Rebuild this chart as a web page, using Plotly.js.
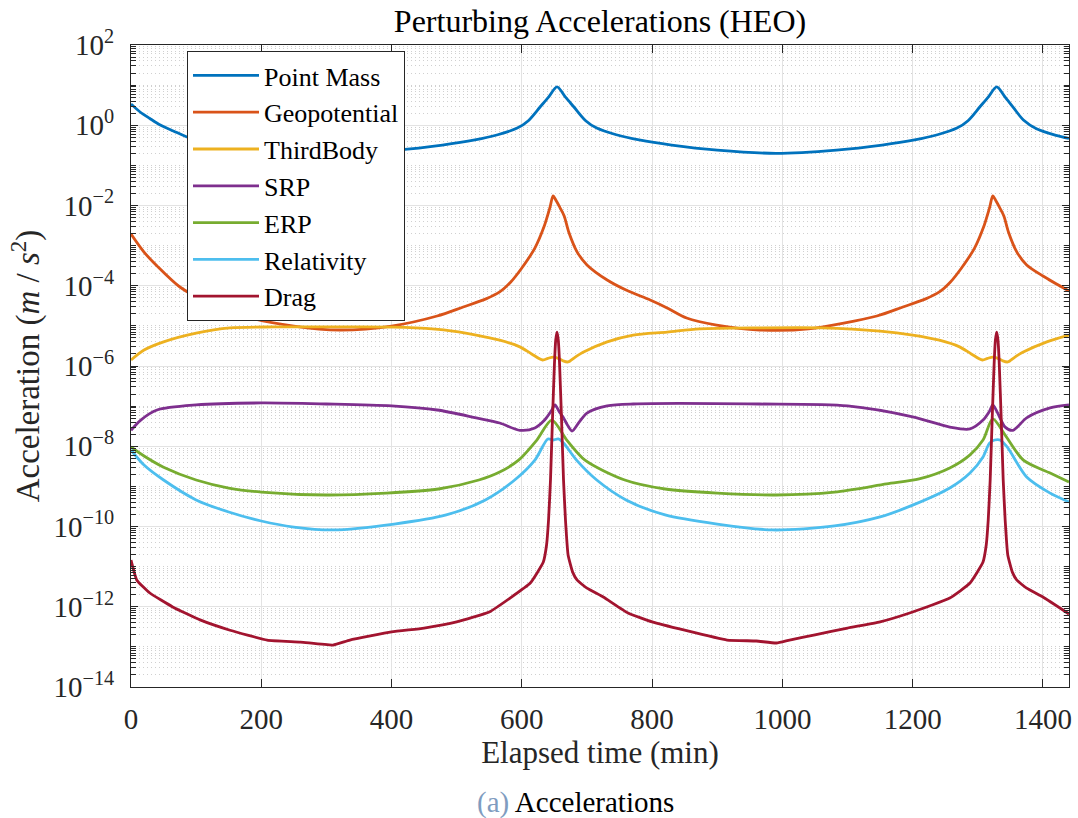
<!DOCTYPE html>
<html><head><meta charset="utf-8">
<script src="https://cdn.plot.ly/plotly-3.0.1.min.js"></script>
<style>html,body{margin:0;padding:0;background:#fff}#chart{width:1078px;height:818px}</style>
</head><body><div id="chart"></div>
<script>
// ---- data ----
const tPointMass = [0, 14, 29, 45, 65, 86, 120, 170, 230, 317, 408, 478, 528, 563, 593, 610, 628, 641, 654, 667, 680, 698, 715, 745, 780, 830, 900, 990, 1083, 1153, 1203, 1238, 1268, 1285, 1303, 1316, 1329, 1342, 1355, 1370, 1390, 1420, 1440];
const pointMass = [3.4, 2.14, 1.47, 1.01, 0.72, 0.51, 0.36, 0.28, 0.228, 0.20, 0.24, 0.32, 0.43, 0.58, 0.85, 1.3, 2.85, 5.0, 9.0, 5.0, 2.85, 1.3, 0.85, 0.58, 0.43, 0.32, 0.24, 0.20, 0.24, 0.32, 0.43, 0.58, 0.85, 1.3, 2.85, 5.0, 9.0, 5.0, 2.7, 1.35, 0.82, 0.56, 0.47];

const tGeopotential = [0, 20, 40, 75, 120, 178, 250, 320, 400, 470, 510, 545, 566, 583, 600, 620, 635, 643, 648, 653, 658, 665, 672, 685, 700, 731, 760, 797, 823, 853, 899, 965, 1040, 1145, 1185, 1220, 1241, 1258, 1275, 1295, 1310, 1318, 1323, 1328, 1333, 1340, 1347, 1360, 1375, 1400, 1440];
const geopotential = [1.95e-3, 6.9e-4, 3.1e-4, 9.3e-5, 3.7e-5, 1.66e-5, 9.9e-6, 7.9e-6, 9.9e-6, 1.76e-5, 2.95e-5, 4.7e-5, 7.0e-5, 1.24e-4, 2.77e-4, 8.7e-4, 3.27e-3, 8.7e-3, 1.73e-2, 1.29e-2, 9.2e-3, 5.5e-3, 2.19e-3, 6.9e-4, 3.3e-4, 1.39e-4, 7.8e-5, 4.4e-5, 2.8e-5, 1.57e-5, 1.05e-5, 7.9e-6, 8.4e-6, 1.76e-5, 2.95e-5, 4.7e-5, 7.0e-5, 1.24e-4, 2.77e-4, 8.7e-4, 3.27e-3, 8.7e-3, 1.73e-2, 1.29e-2, 9.2e-3, 5.5e-3, 2.19e-3, 6.9e-4, 3.3e-4, 1.75e-4, 7.4e-5];

const tThirdBody = [0, 20, 50, 100, 152, 220, 320, 420, 480, 530, 566, 597, 615, 632, 640, 648, 656, 663, 671, 682, 694, 731, 771, 823, 873, 965, 1060, 1150, 1200, 1241, 1272, 1290, 1307, 1315, 1323, 1331, 1338, 1346, 1357, 1369, 1406, 1440];
const thirdBody = [1.41e-6, 2.5e-6, 4.0e-6, 6.6e-6, 8.9e-6, 9.4e-6, 9.4e-6, 9.2e-6, 7.9e-6, 5.9e-6, 4.4e-6, 3.0e-6, 2.0e-6, 1.41e-6, 1.55e-6, 1.67e-6, 1.55e-6, 1.35e-6, 1.26e-6, 1.67e-6, 2.2e-6, 4.0e-6, 5.9e-6, 7.0e-6, 8.4e-6, 8.9e-6, 8.9e-6, 7.4e-6, 5.9e-6, 4.4e-6, 3.0e-6, 2.0e-6, 1.41e-6, 1.55e-6, 1.67e-6, 1.55e-6, 1.35e-6, 1.26e-6, 1.67e-6, 2.2e-6, 4.0e-6, 5.9e-6];

const tSRP = [0, 15, 40, 100, 200, 300, 400, 470, 530, 566, 597, 620, 635, 645, 651, 657, 663, 670, 677, 688, 700, 731, 771, 965, 1100, 1200, 1257, 1288, 1308, 1318, 1323, 1330, 1342, 1354, 1375, 1411, 1440];
const srp = [2.5e-8, 4.5e-8, 8.0e-8, 1.07e-7, 1.20e-7, 1.13e-7, 1.01e-7, 8.0e-8, 5.1e-8, 3.8e-8, 2.5e-8, 2.85e-8, 4.5e-8, 7.5e-8, 1.07e-7, 7.5e-8, 5.4e-8, 3.4e-8, 2.4e-8, 4.0e-8, 6.7e-8, 1.01e-7, 1.13e-7, 1.13e-7, 1.01e-7, 5.4e-8, 3.0e-8, 2.7e-8, 4.5e-8, 7.5e-8, 1.07e-7, 7.0e-8, 3.0e-8, 2.5e-8, 5.1e-8, 9.0e-8, 1.07e-7];

const tERP = [0, 20, 50, 100, 150, 200, 300, 392, 472, 534, 566, 595, 623, 646, 669, 697, 758, 820, 900, 990, 1080, 1160, 1210, 1257, 1288, 1308, 1323, 1342, 1370, 1411, 1440];
const erp = [9.6e-9, 5.7e-9, 3.0e-9, 1.44e-9, 9.1e-10, 7.2e-10, 6.1e-10, 6.8e-10, 8.6e-10, 1.44e-9, 2.28e-9, 4.5e-9, 1.43e-8, 4.5e-8, 1.43e-8, 4.5e-9, 1.44e-9, 8.6e-10, 6.8e-10, 6.1e-10, 7.2e-10, 1.15e-9, 1.53e-9, 2.87e-9, 6.1e-9, 1.43e-8, 4.8e-8, 1.9e-8, 4.5e-9, 2.15e-9, 1.29e-9];

const tRelativity = [0, 20, 50, 100, 150, 200, 250, 310, 404, 484, 544, 589, 620, 640, 648, 656, 664, 684, 715, 760, 820, 900, 985, 1080, 1150, 1200, 1257, 1288, 1308, 1318, 1326, 1334, 1345, 1375, 1411, 1440];
const relativity = [8.1e-9, 3.4e-9, 1.44e-9, 4.6e-10, 2.3e-10, 1.37e-10, 9.7e-11, 8.2e-11, 1.15e-10, 1.94e-10, 4.6e-10, 1.44e-9, 4.5e-9, 1.52e-8, 1.43e-8, 1.52e-8, 1.2e-8, 4.5e-9, 1.44e-9, 4.6e-10, 1.94e-10, 1.15e-10, 8.2e-11, 1.03e-10, 1.73e-10, 3.4e-10, 9.1e-10, 2.15e-9, 5.4e-9, 1.2e-8, 1.43e-8, 1.43e-8, 9.6e-9, 1.71e-9, 6.8e-10, 4.1e-10];

const tDrag = [0, 9, 29, 64, 106, 152, 209, 260, 310, 336, 400, 450, 500, 550, 582, 613, 633, 638, 641, 644, 647, 650, 652, 654, 656, 658, 661, 664, 667, 671, 678, 685, 700, 725, 763, 800, 850, 915, 960, 991, 1011, 1050, 1100, 1150, 1200, 1257, 1288, 1308, 1313, 1316, 1319, 1322, 1325, 1327, 1329, 1331, 1333, 1336, 1339, 1342, 1346, 1353, 1360, 1375, 1400, 1440];
const drag = [1.46e-11, 4.6e-12, 2.2e-12, 9.9e-13, 4.7e-13, 2.6e-13, 1.48e-13, 1.32e-13, 1.11e-13, 1.48e-13, 2.35e-13, 2.95e-13, 4.2e-13, 7.4e-13, 1.65e-12, 3.9e-12, 1.30e-11, 3.5e-11, 1.45e-10, 1.44e-9, 4.5e-8, 1.06e-6, 4.4e-6, 7.0e-6, 4.4e-6, 1.06e-6, 4.5e-8, 1.44e-9, 1.45e-10, 1.95e-11, 7.3e-12, 4.6e-12, 2.9e-12, 1.75e-12, 7.0e-13, 4.2e-13, 2.6e-13, 1.48e-13, 1.40e-13, 1.25e-13, 1.48e-13, 1.98e-13, 2.95e-13, 4.2e-13, 7.4e-13, 1.65e-12, 3.9e-12, 1.30e-11, 3.5e-11, 1.45e-10, 1.44e-9, 4.5e-8, 1.06e-6, 4.4e-6, 7.0e-6, 4.4e-6, 1.06e-6, 4.5e-8, 1.44e-9, 1.45e-10, 1.95e-11, 7.3e-12, 4.6e-12, 2.9e-12, 1.75e-12, 6.6e-13];

const seriesNames = ['Point Mass', 'Geopotential', 'ThirdBody', 'SRP', 'ERP', 'Relativity', 'Drag'];
const seriesColors = ['#0072BD', '#D95319', '#EDB120', '#7E2F8E', '#77AC30', '#4DBEEE', '#A2142F'];
const seriesX = [tPointMass, tGeopotential, tThirdBody, tSRP, tERP, tRelativity, tDrag];
const seriesY = [pointMass, geopotential, thirdBody, srp, erp, relativity, drag];

const xTickVals = [0, 200, 400, 600, 800, 1000, 1200, 1400];
const xTickLabels = ['0', '200', '400', '600', '800', '1000', '1200', '1400'];
const yTickExponents = [-14, -12, -10, -8, -6, -4, -2, 0, 2];
const yTickLabels = ['10<sup>\u221214</sup>', '10<sup>\u221212</sup>', '10<sup>\u221210</sup>', '10<sup>\u22128</sup>', '10<sup>\u22126</sup>', '10<sup>\u22124</sup>', '10<sup>\u22122</sup>', '10<sup>0</sup>', '10<sup>2</sup>'];

// ---- axis helpers ----
const yTickVals = yTickExponents.map(e => Math.pow(10, e));
const yMinorVals = [];
for (let e = -14; e < 2; e++) {
  for (let k = 1; k <= 9; k++) {
    if (k === 1 && e % 2 === 0) continue;
    yMinorVals.push(k * Math.pow(10, e));
  }
}

const FONT = "'Liberation Serif', 'Times New Roman', serif";
const INK = '#262626';

const traces = seriesNames.map((name, i) => ({
  type: 'scatter', mode: 'lines', name: name,
  x: seriesX[i], y: seriesY[i],
  line: {color: seriesColors[i], width: 2.8, shape: 'spline', smoothing: i === 6 ? 0.4 : 0.8},
  legendgroup: 'g' + i, hoverinfo: 'skip'
}));

const layout = {
  width: 1078, height: 818,
  margin: {l: 131, r: 9, t: 45, b: 131, pad: 0},
  paper_bgcolor: '#ffffff', plot_bgcolor: '#ffffff',
  font: {family: FONT, size: 29, color: INK},
  showlegend: true,
  title: {text: 'Perturbing Accelerations (HEO)', font: {family: FONT, size: 32, color: '#000'},
          x: 0.5, xref: 'paper', xanchor: 'center', y: 1 - 21 / 818, yref: 'container', yanchor: 'middle'},
  xaxis: {
    range: [0, 1440], tickmode: 'array', tickvals: xTickVals, ticktext: xTickLabels,
    ticks: 'inside', ticklen: 8, tickwidth: 1, tickcolor: INK,
    showline: true, linecolor: INK, linewidth: 1, mirror: 'allticks',
    showgrid: true, gridcolor: '#e3e3e3', gridwidth: 1, zeroline: false,
    ticklabelstandoff: 6,
    tickfont: {family: FONT, size: 29, color: INK},
    title: {text: 'Elapsed time (min)', font: {family: FONT, size: 31, color: INK}, standoff: 3}
  },
  yaxis: {
    type: 'log', range: [-14, 2], tickmode: 'array', tickvals: yTickVals, ticktext: yTickLabels,
    ticks: 'inside', ticklen: 7, tickwidth: 1, tickcolor: INK,
    showline: true, linecolor: INK, linewidth: 1, mirror: 'allticks',
    showgrid: true, gridcolor: '#e3e3e3', gridwidth: 1, zeroline: false,
    ticklabelstandoff: 10,
    tickfont: {family: FONT, size: 29, color: INK},
    minor: {tickmode: 'array', tickvals: yMinorVals, ticks: 'inside', ticklen: 5, tickwidth: 1, tickcolor: INK,
            showgrid: true, gridcolor: '#d0d0d0', gridwidth: 1, griddash: '1px,3px'},
    title: {text: 'Acceleration (<i>m</i> / <i>s</i><sup>2</sup>)', font: {family: FONT, size: 33, color: INK}, standoff: 3}
  },
  legend: {
    x: (187 - 131) / 938, y: 1 - (51 - 45) / 642, xanchor: 'left', yanchor: 'top',
    bgcolor: '#ffffff', bordercolor: INK, borderwidth: 1,
    font: {family: FONT, size: 26, color: '#000'},
    traceorder: 'grouped', tracegroupgap: 0, itemwidth: 66
  },
  annotations: [{
    text: '<span style="color:#7f9cc0">(a)</span> Accelerations',
    xref: 'paper', yref: 'paper', x: (575 - 131) / 938, y: 1 - (802 - 45) / 642,
    xanchor: 'center', yanchor: 'middle', showarrow: false,
    font: {family: FONT, size: 29, color: '#000'}
  }]
};

Plotly.newPlot('chart', traces, layout, {displayModeBar: false, staticPlot: true});
</script>
</body></html>
